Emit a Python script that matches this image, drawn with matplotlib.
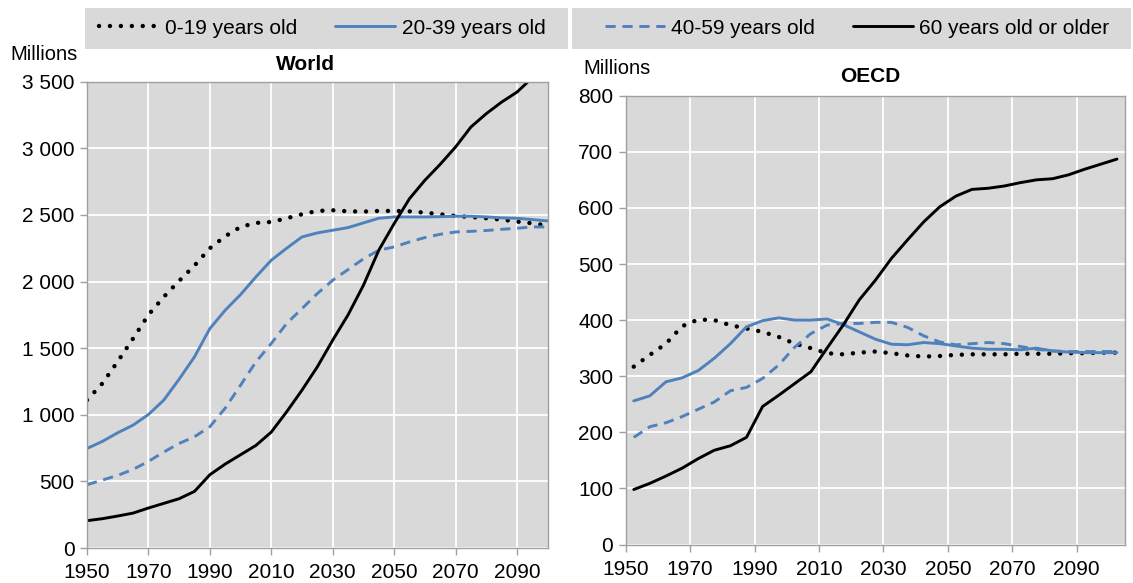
import numpy as np
import matplotlib
matplotlib.use("Agg")
import matplotlib.pyplot as plt
from matplotlib.patches import Rectangle
from matplotlib.ticker import FuncFormatter

plt.rcParams['font.family'] = ['Liberation Sans', 'DejaVu Sans']

years = list(range(1950, 2101, 5))
series_labels = ["0-19 years old", "20-39 years old", "40-59 years old", "60 years old or older"]

world_0_19 = [1110, 1235, 1400, 1572, 1750, 1885, 2005, 2120, 2250, 2340, 2410, 2440, 2447, 2475,
              2505, 2530, 2535, 2527, 2525, 2530, 2530, 2527, 2517, 2505, 2492, 2484, 2475, 2465,
              2450, 2437, 2420]
world_20_39 = [747, 800, 865, 922, 1002, 1110, 1267, 1435, 1647, 1785, 1902, 2035, 2160, 2250,
               2335, 2365, 2385, 2405, 2440, 2475, 2485, 2485, 2485, 2487, 2490, 2490, 2485, 2478,
               2475, 2465, 2455]
world_40_59 = [475, 510, 545, 590, 650, 720, 785, 835, 910, 1050, 1222, 1397, 1535, 1685, 1797,
               1910, 2010, 2090, 2170, 2235, 2260, 2297, 2330, 2355, 2372, 2377, 2383, 2392, 2400,
               2410, 2410]
world_60p = [205, 220, 240, 262, 300, 335, 370, 425, 550, 630, 700, 770, 870, 1022, 1185, 1360,
             1560, 1750, 1972, 2235, 2435, 2622, 2760, 2880, 3010, 3160, 3260, 3347, 3422, 3530,
             3610]

oecd_0_19 = [317, 338, 358, 389, 401, 400, 391, 385, 379, 370, 358, 350, 341, 339, 342, 344, 341,
             337, 335, 336, 338, 339, 339, 339, 340, 340, 340, 341, 341, 342, 342]
oecd_20_39 = [256, 265, 290, 297, 310, 332, 358, 388, 399, 404, 400, 400, 402, 392, 379, 366, 357,
              356, 360, 358, 354, 350, 348, 348, 347, 350, 345, 343, 342, 342, 342]
oecd_40_59 = [191, 210, 217, 228, 241, 254, 274, 280, 296, 320, 352, 376, 391, 394, 394, 396, 396,
              387, 372, 361, 356, 358, 360, 358, 353, 348, 345, 344, 344, 344, 344]
oecd_60p = [98, 109, 122, 136, 153, 168, 176, 191, 246, 266, 287, 308, 350, 391, 436, 471, 510,
            543, 575, 602, 621, 633, 635, 639, 645, 650, 652, 659, 669, 678, 687]

x_ticks = [1950, 1970, 1990, 2010, 2030, 2050, 2070, 2090]
world_yticks = [0, 500, 1000, 1500, 2000, 2500, 3000, 3500]
oecd_yticks = [0, 100, 200, 300, 400, 500, 600, 700, 800]

BLUE = "#4f81bd"
BG = "#d9d9d9"
SPINE = "#a0a0a0"
W, H = 1133, 583

fig = plt.figure(figsize=(W / 100, H / 100), dpi=100)


def ax_rect(l, r, t, b):
    return [l / W, 1 - b / H, (r - l) / W, (b - t) / H]


ax1 = fig.add_axes(ax_rect(87, 547.7, 81.7, 548))
ax2 = fig.add_axes(ax_rect(625.7, 1125, 95.7, 544.5))

styles = [
    dict(color="black", lw=3.2, linestyle=(0, (0.01, 2.45)), dash_capstyle="round"),
    dict(color=BLUE, lw=2.1, linestyle="-"),
    dict(color=BLUE, lw=2.1, linestyle=(0, (3.5, 2.3))),
    dict(color="black", lw=2.1, linestyle="-"),
]


def style_axes(ax, yticks, xlim, fmt):
    ax.set_facecolor(BG)
    ax.set_xlim(*xlim)
    ax.set_ylim(yticks[0], yticks[-1])
    ax.set_xticks(x_ticks)
    ax.set_yticks(yticks)
    ax.yaxis.set_major_formatter(FuncFormatter(fmt))
    ax.grid(True, color="white", lw=1.3)
    ax.set_axisbelow(True)
    for s in ax.spines.values():
        s.set_color(SPINE)
        s.set_linewidth(1.0)
    ax.tick_params(axis="both", direction="out", length=5, width=1, color=SPINE,
                   labelsize=15, pad=4)
    ax.tick_params(axis="x", pad=6)


def thousands(v, pos):
    v = int(round(v))
    return f"{v:,}".replace(",", " ")


x_world = np.array(years, dtype=float)
lines = []
for data, st in zip([world_0_19, world_20_39, world_40_59, world_60p], styles):
    ln, = ax1.plot(x_world, data, **st, solid_capstyle="round")
    lines.append(ln)
style_axes(ax1, world_yticks, (1950, 2100), thousands)

# OECD chart: category axis, points sit mid-category (half of the 5-year step)
x_oecd = np.array(years, dtype=float) + 2.5
for data, st in zip([oecd_0_19, oecd_20_39, oecd_40_59, oecd_60p], styles):
    ax2.plot(x_oecd, data, **st, solid_capstyle="round")
style_axes(ax2, oecd_yticks, (1950, 2105), lambda v, p: f"{int(round(v))}")

# titles and unit labels
fig.text(305 / W, 1 - 65 / H, "World", ha="center", va="center", fontsize=15, fontweight="bold")
fig.text(870 / W, 1 - 76 / H, "OECD", ha="center", va="center", fontsize=15, fontweight="bold")
fig.text(10 / W, 1 - 55 / H, "Millions", ha="left", va="center", fontsize=14.5)
fig.text(583 / W, 1 - 68 / H, "Millions", ha="left", va="center", fontsize=14.5)

# legend boxes
for (l, r) in [(85, 568), (572, 1131)]:
    fig.patches.append(Rectangle((l / W, 1 - 49 / H), (r - l) / W, 41 / H,
                                 transform=fig.transFigure, facecolor=BG, edgecolor="none",
                                 zorder=0))

leg_kw = dict(loc="center", ncol=2, frameon=False, fontsize=15, handlelength=2.9,
              handletextpad=0.3, columnspacing=1.8, borderaxespad=0, borderpad=0)
leg1 = fig.legend(lines[:2], series_labels[:2], bbox_to_anchor=(322 / W, 1 - 28 / H), **leg_kw)
leg2 = fig.legend(lines[2:], series_labels[2:], bbox_to_anchor=(857 / W, 1 - 28 / H), **leg_kw)

fig.savefig("out.png", dpi=100)
